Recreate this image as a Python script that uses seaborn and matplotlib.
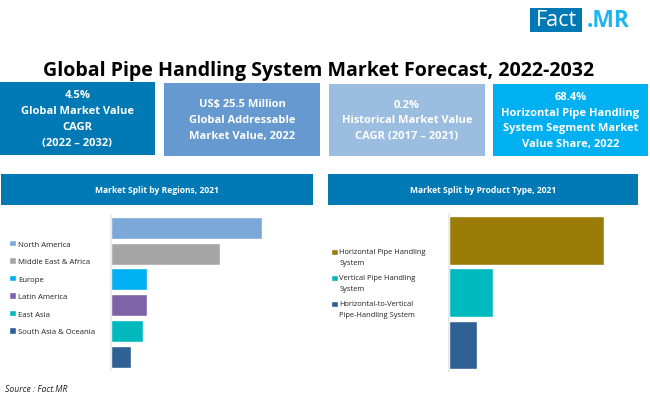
import matplotlib
matplotlib.use("Agg")
import matplotlib.pyplot as plt
import pandas as pd
import seaborn as sns
from matplotlib.patches import Rectangle

# ── Data ───────────────────────────────────────────────
regions = ["North America", "Middle East & Africa", "Europe",
           "Latin America", "East Asia", "South Asia & Oceania"]
region_share = [39.3, 28.4, 9.4, 9.4, 8.3, 5.2]
region_colors = ["#7BA7D9", "#A5A5A5", "#00B0F0", "#7F63A8", "#00B9BF", "#2E6093"]

products = ["Horizontal Pipe Handling\nSystem", "Vertical Pipe Handling\nSystem",
            "Horizontal-to-Vertical\nPipe-Handling System"]
product_share = [68.4, 19.3, 12.3]
product_colors = ["#9C7C08", "#00B9BF", "#2E6093"]

card_labels = ["4.5%\nGlobal Market Value\nCAGR\n(2022 – 2032)",
               "US$ 25.5 Million\nGlobal Addressable\nMarket Value, 2022",
               "0.2%\nHistorical Market Value\nCAGR (2017 – 2021)",
               "68.4%\nHorizontal Pipe Handling\nSystem Segment Market\nValue Share, 2022"]
card_colors = ["#0079B5", "#6699CF", "#9BBDE0", "#00B0F0"]
card_boxes = [(0, 83, 155, 73), (164, 84, 156, 73), (329, 85, 156, 72), (493, 85, 155, 72)]

W, H = 650, 414
HEADER = "#0079B5"

# ── Setup ──────────────────────────────────────────────
sns.set_theme(style="white")
plt.rcParams["font.family"] = ["Open Sans", "DejaVu Sans"]
fig = plt.figure(figsize=(W / 100, H / 100), dpi=100, facecolor="white")

# overlay in pixel coordinates for boxes, title and logo
bg = fig.add_axes([0, 0, 1, 1])
bg.set_xlim(0, W)
bg.set_ylim(H, 0)
bg.axis("off")


def px_axes(x0, y0, x1, y1):
    return fig.add_axes([x0 / W, 1 - y1 / H, (x1 - x0) / W, (y1 - y0) / H])


# logo
bg.add_patch(Rectangle((530, 9), 52, 24, color=HEADER, lw=0))
bg.text(536, 21, "Fact", color="white", fontsize=15.5, va="center", ha="left")
bg.text(587, 21, ".MR", color="#1FB4EE", fontsize=16.5, fontweight="bold", va="center", ha="left")

bg.text(319, 71, "Global Pipe Handling System Market Forecast, 2022-2032",
        fontsize=14.1, fontweight="bold", color="black", ha="center", va="center")

# KPI cards
for (x, y, w, h), color, label in zip(card_boxes, card_colors, card_labels):
    bg.add_patch(Rectangle((x, y), w, h, color=color, lw=0))
    bg.text(x + w / 2, y + h / 2, label, color="white", fontsize=8, fontweight="bold",
            ha="center", va="center", linespacing=1.62)

# panel headers
bg.add_patch(Rectangle((1, 175), 312, 31, color=HEADER, lw=0))
bg.text(157, 190.5, "Market Split by Regions, 2021", color="white", fontsize=6.1,
        fontweight="bold", ha="center", va="center")
bg.add_patch(Rectangle((328, 175), 310, 31, color=HEADER, lw=0))
bg.text(483, 190.5, "Market Split by Product Type, 2021", color="white", fontsize=6.1,
        fontweight="bold", ha="center", va="center")

bg.text(5, 390, "Source : Fact.MR", fontsize=6.2, style="italic", color="#222222", ha="left", va="center")


def split_bars(ax, names, values, colors, width, xmax):
    df = pd.DataFrame({"name": names, "share": values})
    sns.barplot(data=df, y="name", x="share", hue="name", order=names, hue_order=names,
                palette=colors, width=width, dodge=False, legend=True, saturation=1, ax=ax)
    ax.set_xlim(0, xmax)
    ax.set(xlabel="", ylabel="", xticks=[], yticks=[])
    sns.despine(ax=ax, top=True, right=True, bottom=True)
    ax.spines["left"].set_color("#E8E8E8")
    ax.patch.set_alpha(0)


# ── Regions ────────────────────────────────────────────
ax1 = px_axes(111, 215.7, 262, 371)
split_bars(ax1, regions, region_share, region_colors, 0.85, region_share[0])
ax1.legend(loc="upper left", bbox_to_anchor=(7 / W, 1 - 238.5 / H), bbox_transform=fig.transFigure,
           frameon=False, fontsize=5.6, handlelength=0.85, handleheight=0.85, handletextpad=0.25,
           labelspacing=1.25, borderpad=0.3, borderaxespad=0, labelcolor="#222222")

# ── Product type ───────────────────────────────────────
ax2 = px_axes(449, 215.4, 603.7, 372)
split_bars(ax2, products, product_share, product_colors, 0.93, product_share[0])
leg2 = ax2.legend(loc="upper left", bbox_to_anchor=(329 / W, 1 - 247 / H), bbox_transform=fig.transFigure,
                  frameon=False, fontsize=5.4, handlelength=0.85, handleheight=0.85, handletextpad=0.2,
                  labelspacing=1.15, borderpad=0.3, borderaxespad=0, labelcolor="#222222")
for t in leg2.get_texts():
    t.set_linespacing(1.7)
# markers sit level with the first line of each label
for p in leg2.get_patches():
    p.set_y(p.get_y() + 3.8)

plt.savefig("out.png", dpi=100)
plt.close()
